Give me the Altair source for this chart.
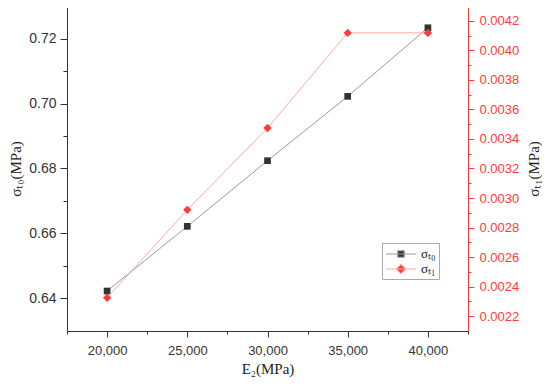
import altair as alt
import pandas as pd

# ---- data ----
E2 = [20000, 25000, 30000, 35000, 40000]
sigma_t0 = [0.6423, 0.6622, 0.6824, 0.7022, 0.7233]
sigma_t1 = [0.002325, 0.00292, 0.003474, 0.004118, 0.004118]
series_names = ["σₜ₀", "σₜ₁"]

x_ticks = [17500, 20000, 22500, 25000, 27500, 30000, 32500, 35000, 37500, 40000, 42500]
left_ticks = [0.64, 0.65, 0.66, 0.67, 0.68, 0.69, 0.70, 0.71, 0.72]
right_ticks = [0.0022, 0.0023, 0.0024, 0.0025, 0.0026, 0.0027, 0.0028, 0.0029, 0.0030,
               0.0031, 0.0032, 0.0033, 0.0034, 0.0035, 0.0036, 0.0037, 0.0038, 0.0039,
               0.0040, 0.0041, 0.0042]

df0 = pd.DataFrame({"E2": E2, "val": sigma_t0, "series": series_names[0]})
df1 = pd.DataFrame({"E2": E2, "val": sigma_t1, "series": series_names[1]})
df_all = pd.concat([df0, df1], ignore_index=True)

DARK = "#333333"
RED = "#ff3b3b"
SERIF = "Liberation Serif"
SANS = "Liberation Sans"

x_enc = alt.X(
    "E2:Q",
    scale=alt.Scale(domain=[17500, 42500], nice=False, zero=False),
    axis=alt.Axis(
        values=x_ticks,
        labelExpr="datum.value % 5000 === 0 ? format(datum.value, ',') : ''",
        title="E₂(MPa)",
        titleFont=SERIF, titleFontSize=15, titleFontWeight="normal", titleColor="#222222",
        titlePadding=4,
        labelFont=SANS, labelFontSize=13, labelColor=DARK,
        labelFlush=False, labelOverlap=False, labelPadding=7,
        domainColor=DARK, tickColor=DARK,
        tickSize={"condition": {"test": "datum.value % 5000 === 0", "value": 6}, "value": 3},
        grid=False,
    ),
)

y0_enc = alt.Y(
    "val:Q",
    scale=alt.Scale(domain=[0.63, 0.73], nice=False, zero=False),
    axis=alt.Axis(
        orient="left",
        values=left_ticks,
        labelExpr="round(datum.value * 100) % 2 === 0 ? format(datum.value, '.2f') : ''",
        title="σₜ₀(MPa)",
        titleFont=SERIF, titleFontSize=15, titleFontWeight="normal", titleColor="#222222",
        titlePadding=5,
        labelFont=SANS, labelFontSize=14, labelColor=DARK,
        labelFlush=False, labelOverlap=False, labelPadding=4,
        domainColor=DARK, tickColor=DARK,
        tickSize={"condition": {"test": "round(datum.value * 100) % 2 === 0", "value": 7}, "value": 4},
        grid=False,
    ),
)

y1_enc = alt.Y(
    "val:Q",
    scale=alt.Scale(domain=[0.0021, 0.0043], nice=False, zero=False),
    axis=alt.Axis(
        orient="right",
        values=right_ticks,
        labelExpr="round(datum.value * 10000) % 2 === 0 ? format(datum.value, '.4f') : ''",
        title="σₜ₁(MPa)",
        titleFont=SERIF, titleFontSize=15, titleFontWeight="normal", titleColor="#222222",
        titleAngle=270, titleBaseline="top",
        titlePadding=8,
        labelFont=SANS, labelFontSize=13, labelColor=RED,
        labelFlush=False, labelOverlap=False, labelPadding=5,
        domainColor=RED, tickColor=RED,
        tickSize={"condition": {"test": "round(datum.value * 10000) % 2 === 0", "value": 6}, "value": 3},
        grid=False,
    ),
)

line0 = alt.Chart(df0).mark_line(color="#9a9a9a", strokeWidth=1).encode(x=x_enc, y=y0_enc)
pts0 = alt.Chart(df0).mark_point(shape="square", filled=True, size=45, color=DARK, opacity=1).encode(x=x_enc, y=y0_enc)

# legend symbols: a short line with the marker on it
sq_path = "M-2,0H2M-0.43,-0.43H0.43V0.43H-0.43Z"
dia_path = "M-2,0H2M0,-0.62L0.62,0L0,0.62L-0.62,0Z"

legend_layer = alt.Chart(df_all).mark_point(filled=True, opacity=0, clip=True).encode(
    x=x_enc,
    y=y0_enc,
    fill=alt.Fill("series:N", scale=alt.Scale(domain=series_names, range=[DARK, RED]),
                  legend=alt.Legend(title=None)),
    stroke=alt.Stroke("series:N", scale=alt.Scale(domain=series_names, range=["#9a9a9a", "#ffa8a8"]),
                      legend=alt.Legend(title=None)),
    shape=alt.Shape("series:N", scale=alt.Scale(domain=series_names, range=[sq_path, dia_path]),
                    legend=alt.Legend(title=None)),
)

layer_a = alt.layer(line0, pts0, legend_layer)

line1 = alt.Chart(df1).mark_line(color="#ffa8a8", strokeWidth=1).encode(x=x_enc, y=y1_enc)
pts1 = alt.Chart(df1).mark_point(shape="diamond", filled=True, size=70, color=RED, opacity=1).encode(x=x_enc, y=y1_enc)
layer_b = alt.layer(line1, pts1)

chart = (
    alt.layer(layer_a, layer_b)
    .resolve_scale(y="independent")
    .properties(
        width=401,
        height=325,
        autosize=alt.AutoSizeParams(type="none"),
        padding={"left": 59, "top": -2, "right": 74, "bottom": 48},
    )
    .configure_view(stroke=None)
    .configure_legend(
        orient="none",
        legendX=315,
        legendY=237,
        strokeColor="#aaaaaa",
        fillColor="white",
        padding=3,
        labelFont=SERIF,
        labelFontSize=13,
        labelColor="#222222",
        labelOffset=12,
        symbolOffset=8,
        symbolSize=225,
        symbolStrokeWidth=1,
        symbolOpacity=1,
        rowPadding=0,
    )
)

chart.save("out.html", embed_options={"renderer": "svg", "actions": False})
